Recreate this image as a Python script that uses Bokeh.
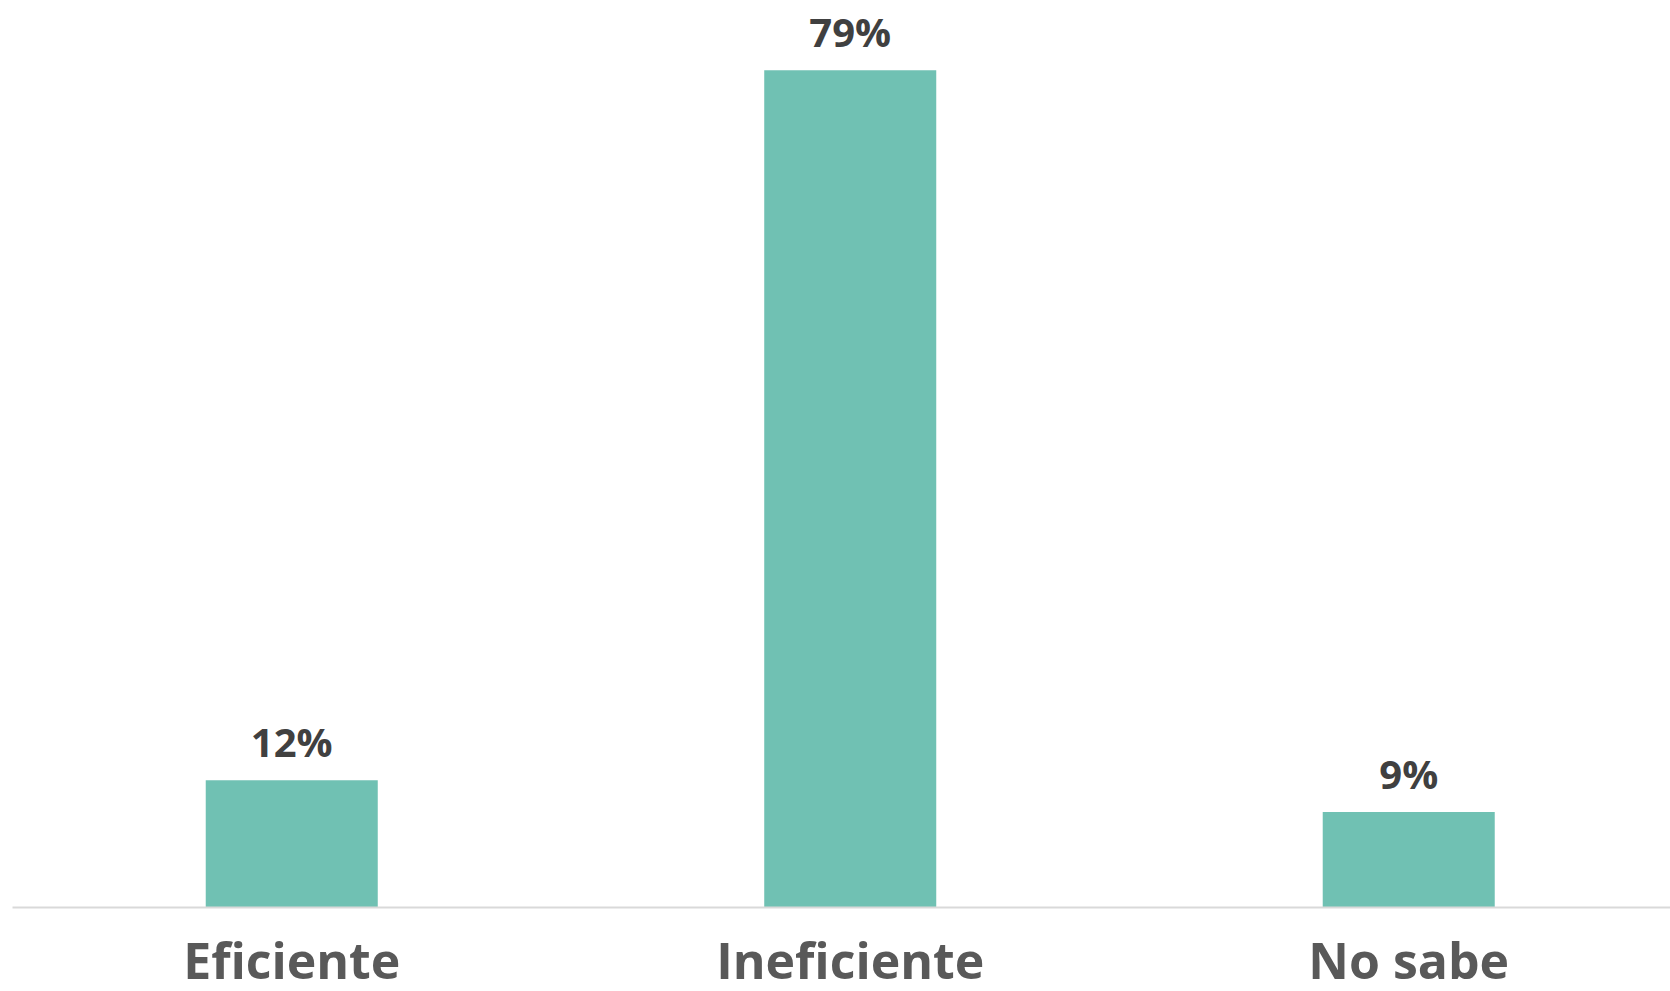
from bokeh.plotting import figure
from bokeh.models import Range1d, ColumnDataSource, FixedTicker
from bokeh.core.properties import value
from bokeh.embed import file_html
from bokeh.resources import INLINE

categories = ["Eficiente", "Ineficiente", "No sabe"]
values = [12, 79, 9]
labels = ["12%", "79%", "9%"]

xpos = list(range(len(categories)))
src = ColumnDataSource(dict(x=xpos, v=values, lab=labels))

p = figure(frame_width=1658, frame_height=907, output_backend="svg", toolbar_location=None,
           x_range=Range1d(-0.5, 2.4687), y_range=Range1d(0, 85.57),
           min_border=0, min_border_left=12, min_border_right=0,
           min_border_top=0, min_border_bottom=0)
p.yaxis.visible = False
p.grid.visible = False
p.outline_line_color = None
p.background_fill_color = "white"
p.border_fill_color = "white"

xa = p.xaxis[0]
xa.ticker = FixedTicker(ticks=xpos)
xa.major_label_overrides = {i: c for i, c in zip(xpos, categories)}
xa.axis_line_color = "#d9d9d9"
xa.axis_line_width = 2
xa.major_tick_line_color = None
xa.minor_tick_line_color = None
xa.major_tick_out = 0
xa.major_tick_in = 0
xa.major_label_standoff = 18
xa.major_label_text_font = "Open Sans"
xa.major_label_text_font_style = "bold"
xa.major_label_text_font_size = "50px"
xa.major_label_text_color = "#595959"

p.vbar(x="x", top="v", bottom=0, width=0.308, source=src, fill_color="#70C1B3", line_color=None)

p.text(x="x", y="v", text="lab", source=src, text_align="center", text_baseline="alphabetic",
       y_offset=-39, text_font=value("Open Sans"), text_font_style="bold",
       text_font_size="40px", text_color="#404040")

open("out.html", "w").write(file_html(p, INLINE))
